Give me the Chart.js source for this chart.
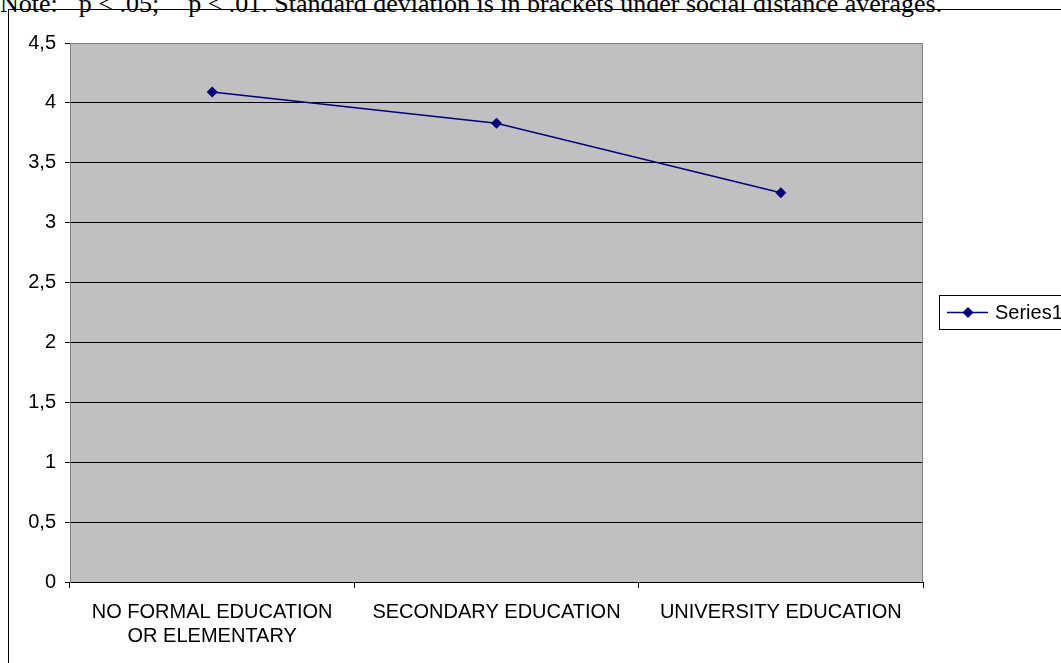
<!DOCTYPE html>
<html lang="en">
<head>
    <meta charset="UTF-8">
    <title>Social distance by education</title>
    <script src="https://cdn.jsdelivr.net/npm/chart.js"></script>
    <style>
        body {
            margin: 0;
            padding: 0;
            background-color: #ffffff;
            overflow: hidden;
        }

        #note {
            position: absolute;
            left: 0;
            top: -16px;
            font-family: 'Liberation Serif', serif;
            font-size: 26px;
            line-height: 26px;
            white-space: nowrap;
            color: #000;
        }

        #note sup {
            font-size: 16px;
        }

        #frame {
            position: absolute;
            left: 8px;
            top: 9px;
            width: 1200px;
            height: 800px;
            border: 1px solid #000;
        }

        #wrap {
            position: absolute;
            left: 0;
            top: 0;
            width: 1061px;
            height: 663px;
        }
    </style>
</head>
<body>
    <div id="note">Note: <sup>*</sup> p &lt; .05; <sup>**</sup> p &lt; .01. Standard deviation is in brackets under social distance averages.</div>
    <div id="frame"></div>
    <div id="wrap">
        <canvas id="chart" width="1061" height="663"></canvas>
    </div>

    <script>
        const categories = [
            ['NO FORMAL EDUCATION', 'OR ELEMENTARY'],
            'SECONDARY EDUCATION',
            'UNIVERSITY EDUCATION'
        ];
        const series1 = [4.09, 3.83, 3.25];
        const yTickLabels = ['0', '0,5', '1', '1,5', '2', '2,5', '3', '3,5', '4', '4,5'];

        const labelFont = { family: "'Liberation Sans', Arial, sans-serif", size: 20 };

        // grey plot area with its border
        const plotArea = {
            id: 'plotArea',
            beforeDraw(chart) {
                const { ctx, chartArea: a } = chart;
                ctx.save();
                ctx.fillStyle = '#c0c0c0';
                ctx.fillRect(a.left, a.top, a.right - a.left, a.bottom - a.top);
                ctx.restore();
            },
            afterDatasetsDraw(chart) {
                const { ctx, chartArea: a } = chart;
                ctx.save();
                ctx.strokeStyle = '#808080';
                ctx.lineWidth = 1;
                ctx.beginPath();
                ctx.moveTo(a.left + 0.5, a.bottom);
                ctx.lineTo(a.left + 0.5, a.top + 0.5);
                ctx.lineTo(a.right - 0.5, a.top + 0.5);
                ctx.lineTo(a.right - 0.5, a.bottom);
                ctx.stroke();
                ctx.restore();
            }
        };

        // Excel style legend box on the right, cut by the page edge
        const sideLegend = {
            id: 'sideLegend',
            afterDraw(chart) {
                const { ctx } = chart;
                const ds = chart.data.datasets[0];
                const x = 939.5, y = 295.5, h = 34;
                ctx.save();
                ctx.fillStyle = '#ffffff';
                ctx.fillRect(x, y, 200, h);
                ctx.strokeStyle = '#000';
                ctx.lineWidth = 1;
                ctx.strokeRect(x, y, 200, h);
                const my = y + 17;
                ctx.strokeStyle = ds.borderColor;
                ctx.lineWidth = 1.5;
                ctx.beginPath();
                ctx.moveTo(947, my);
                ctx.lineTo(988, my);
                ctx.stroke();
                ctx.fillStyle = ds.pointBackgroundColor;
                ctx.beginPath();
                ctx.moveTo(968, my - 5.5);
                ctx.lineTo(973.5, my);
                ctx.lineTo(968, my + 5.5);
                ctx.lineTo(962.5, my);
                ctx.closePath();
                ctx.fill();
                ctx.fillStyle = '#000';
                ctx.font = labelFont.size + 'px ' + labelFont.family;
                ctx.textBaseline = 'middle';
                ctx.textAlign = 'left';
                ctx.fillText(ds.label, 995, my + 1);
                ctx.restore();
            }
        };

        const ctx = document.getElementById('chart').getContext('2d');

        new Chart(ctx, {
            type: 'line',
            data: {
                labels: categories,
                datasets: [{
                    label: 'Series1',
                    data: series1,
                    borderColor: '#000080',
                    backgroundColor: '#000080',
                    pointBackgroundColor: '#000080',
                    pointBorderColor: '#000080',
                    borderWidth: 1.5,
                    pointStyle: 'rectRot',
                    pointRadius: 5.5,
                    pointBorderWidth: 0,
                    tension: 0,
                    fill: false
                }]
            },
            options: {
                responsive: false,
                animation: false,
                devicePixelRatio: 1,
                layout: {
                    padding: { left: 0, top: 43, right: 138, bottom: 0 }
                },
                plugins: {
                    legend: { display: false },
                    tooltip: { enabled: false }
                },
                scales: {
                    x: {
                        offset: true,
                        afterFit(scale) { scale.height = 81; },
                        grid: {
                            offset: true,
                            drawOnChartArea: false,
                            drawTicks: true,
                            tickLength: 6,
                            tickColor: '#000'
                        },
                        border: { color: '#000', width: 1 },
                        ticks: {
                            color: '#000',
                            font: { ...labelFont, lineHeight: 1.2 },
                            padding: 12,
                            maxRotation: 0,
                            autoSkip: false
                        }
                    },
                    y: {
                        min: 0,
                        max: 4.5,
                        afterFit(scale) { scale.width = 70; },
                        grid: {
                            color: c => (c.tick && c.tick.value === 4.5) ? 'rgba(0,0,0,0)' : '#000',
                            tickColor: '#000',
                            tickLength: 5,
                            lineWidth: 1
                        },
                        border: { color: '#808080', width: 1 },
                        ticks: {
                            stepSize: 0.5,
                            color: '#000',
                            font: labelFont,
                            padding: 9,
                            callback: (v, i) => yTickLabels[i]
                        }
                    }
                }
            },
            plugins: [plotArea, sideLegend]
        });
    </script>
</body>
</html>
